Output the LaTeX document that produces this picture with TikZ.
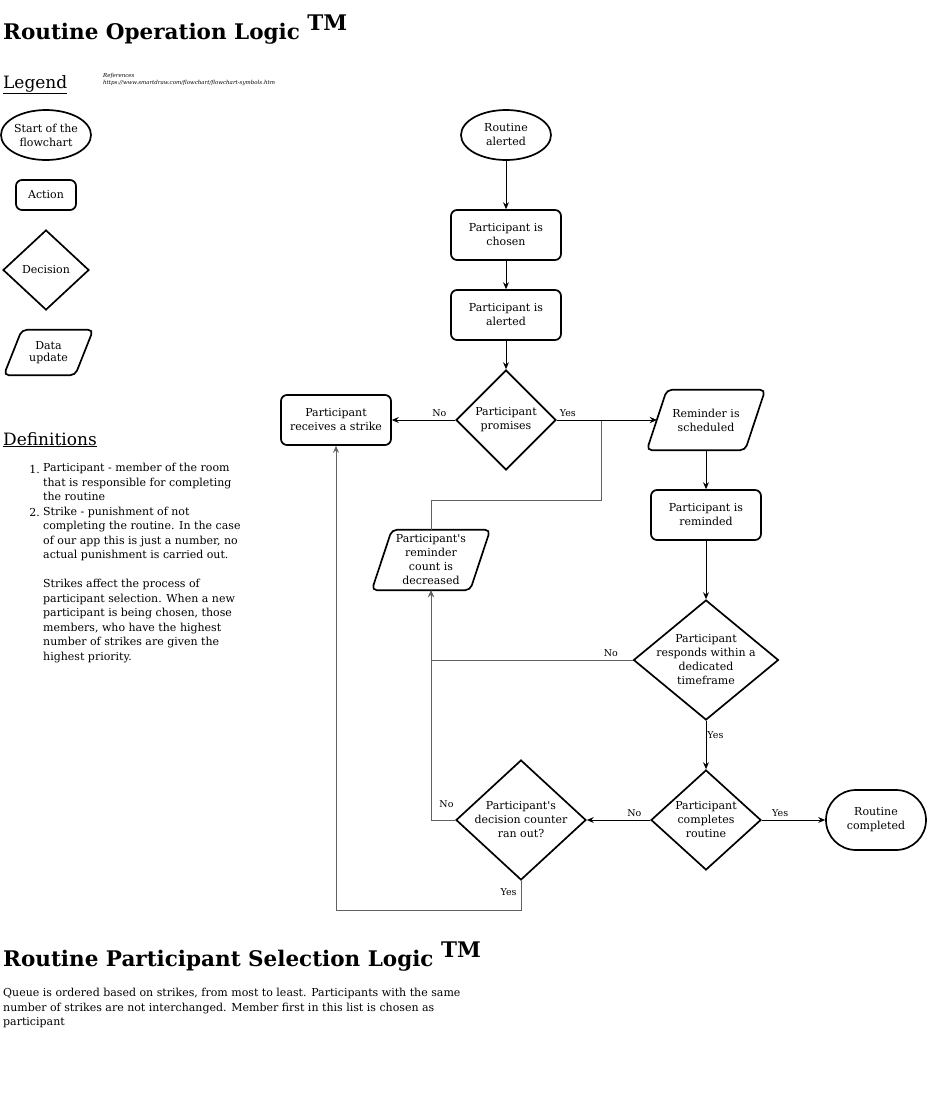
\documentclass[tikz,border=0pt]{standalone}
\usepackage{fontspec}
\setmainfont{DejaVu Serif}[Ligatures=TeXOff]
\usetikzlibrary{shapes.geometric,shapes.misc,arrows.meta,calc}
\newcommand\nodef{\fontsize{11}{14}\selectfont}
\newcommand\bodyf{\fontsize{11}{14.5}\selectfont}
\newcommand\lblf{\fontsize{9.5}{11}\selectfont}
\newcommand\ttlf{\fontsize{21.5}{26}\selectfont\bfseries}
\newcommand\hdf{\fontsize{17}{20}\selectfont}
\newcommand\plgram[7]{%
  \node[font=\nodef, align=center, minimum width={#4-#6}, minimum height=#5, inner sep=0pt] (#1) at (#2,#3) {#7};
  \draw[shapeline, rounded corners=5pt] ($(#1.south west)+(-#6/2,0)$) -- ($(#1.north west)+(#6/2,0)$) -- ($(#1.north east)+(#6/2,0)$) -- ($(#1.south east)+(-#6/2,0)$) -- cycle;}
\begin{document}
\begin{tikzpicture}[x=1pt,y=-1pt,
  shapeline/.style={draw=black, line width=1.7pt},
  shp/.style={shapeline, inner sep=0pt, align=center, font=\nodef},
  act/.style={shp, rectangle, rounded corners=6pt},
  startnode/.style={shp, ellipse},
  dia/.style={shp, diamond},
  endnode/.style={shp, rounded rectangle},
  conn/.style={draw=black, line width=0.9pt, -{Stealth[length=7pt,width=6pt,inset=2.5pt]}},
  loopline/.style={conn, draw=black!62, line width=1pt},
  lbl/.style={font=\lblf, inner sep=1pt, yshift=1.5pt},
  dtext/.style={font=\nodef, align=center}
]
\useasboundingbox (0,0) rectangle (927,1093);

% ---------- headings ----------
\node[anchor=base west, inner sep=0pt, font=\ttlf] (title1) at (3,39) {Routine Operation Logic \raisebox{9pt}{TM}};
\node[anchor=base west, inner sep=0pt, font=\hdf] (legend) at (3,88) {\underline{Legend}};
\node[anchor=base west, inner sep=0pt, font=\fontsize{5.5}{7}\selectfont\itshape, align=left] (refs) at (103,84) {References\\https://www.smartdraw.com/flowchart/flowchart-symbols.htm};
\node[anchor=base west, inner sep=0pt, font=\hdf] (defs) at (3,445) {\underline{Definitions}};

% ---------- legend ----------
\node[startnode, minimum width=90pt, minimum height=50pt] (lstart) at (46,135) {};
\node[dtext] at (lstart) {Start of the\\flowchart};
\node[act, minimum width=60pt, minimum height=30pt] (lact) at (46,195) {Action};
\node[dia, minimum width=86pt, minimum height=80pt, label={[dtext]center:Decision}] (ldec) at (46,270) {};
\plgram{ldata}{48.5}{352.5}{89}{45}{18}{\raisebox{-2pt}{\shortstack{Data\\update}}}

% ---------- definitions ----------
\node[anchor=base east, inner sep=0pt, font=\bodyf] (n1) at (40,473) {1.};
\node[anchor=north west, inner sep=0pt, font=\bodyf, align=left] (d1) at (43,463) {Participant - member of the room\\that is responsible for completing\\the routine};
\node[anchor=base east, inner sep=0pt, font=\bodyf] (n2) at (40,516.5) {2.};
\node[anchor=north west, inner sep=0pt, font=\bodyf, align=left] (d2) at (43,506.5) {Strike - punishment of not\\completing the routine. In the case\\of our app this is just a number, no\\actual punishment is carried out.\\[14.5pt]Strikes affect the process of\\participant selection. When a new\\participant is being chosen, those\\members, who have the highest\\number of strikes are given the\\highest priority.};

% ---------- flowchart ----------
\node[startnode, minimum width=90pt, minimum height=50pt] (ra) at (506,135) {};
\node[dtext] at (ra) {Routine\\alerted};
\node[act, minimum width=110pt, minimum height=50pt] (pc) at (506,235) {Participant is\\chosen};
\node[act, minimum width=110pt, minimum height=50pt] (pa) at (506,315) {Participant is\\alerted};
\node[dia, minimum width=100pt, minimum height=100pt, label={[dtext]center:Participant\\promises}] (prom) at (506,420) {};
\node[act, minimum width=110pt, minimum height=50pt] (strike) at (336,420) {Participant\\receives a strike};
\plgram{sched}{706}{420}{118}{60}{20}{Reminder is\\scheduled}
\node[act, minimum width=110pt, minimum height=50pt] (rem) at (706,515) {Participant is\\reminded};
\node[dia, minimum width=145pt, minimum height=120pt, label={[dtext]center:Participant\\responds within a\\dedicated\\timeframe}] (resp) at (706,660) {};
\node[dia, minimum width=110pt, minimum height=100pt, label={[dtext]center:Participant\\completes\\routine}] (comp) at (706,820) {};
\node[endnode, minimum width=100pt, minimum height=60pt] (done) at (876,820) {Routine\\completed};
\node[dia, minimum width=130pt, minimum height=120pt, label={[dtext]center:Participant's\\decision counter\\ran out?}] (cnt) at (521,820) {};
\plgram{dec}{431}{560}{118}{60}{20}{Participant's\\reminder\\count is\\decreased}

% ---------- connectors ----------
\coordinate (j1) at (601,500);
\coordinate (j2) at (521,910);
\draw[loopline] (dec.north) |- (j1) -- (j1 |- sched.west) -- (sched.west);
\draw[conn] (ra.south) -- (pc.north);
\draw[conn] (pc.south) -- (pa.north);
\draw[conn] (pa.south) -- (prom.north);
\draw[conn] (prom.west) -- node[lbl, pos=0.25, anchor=south] {No} (strike.east);
\draw[conn] (prom.east) -- node[lbl, pos=0.11, anchor=south] {Yes} (sched.west);
\draw[conn] (sched.south) -- (rem.north);
\draw[conn] (rem.south) -- (resp.north);
\draw[loopline] (resp.west) -| node[lbl, pos=0.054, anchor=south] {No} (dec.south);
\draw[conn] (resp.south) -- node[lbl, pos=0.32, anchor=west] {Yes} (comp.north);
\draw[conn] (comp.west) -- node[lbl, pos=0.25, anchor=south] {No} (cnt.east);
\draw[conn] (comp.east) -- node[lbl, pos=0.29, anchor=south] {Yes} (done.west);
\draw[loopline] (cnt.west) -| node[lbl, pos=0.18, anchor=south, yshift=9pt] {No} (dec.south);
\draw[loopline] (cnt.south) -- node[lbl, pos=0.43, anchor=east, xshift=-3pt] {Yes} (j2) -| (strike.south);

% ---------- bottom ----------
\node[anchor=base west, inner sep=0pt, font=\ttlf] (title2) at (3,966) {Routine Participant Selection Logic \raisebox{9pt}{TM}};
\node[anchor=north west, inner sep=0pt, font=\bodyf, align=left] (para) at (3,988) {Queue is ordered based on strikes, from most to least. Participants with the same\\number of strikes are not interchanged. Member first in this list is chosen as\\participant};
\end{tikzpicture}
\end{document}
